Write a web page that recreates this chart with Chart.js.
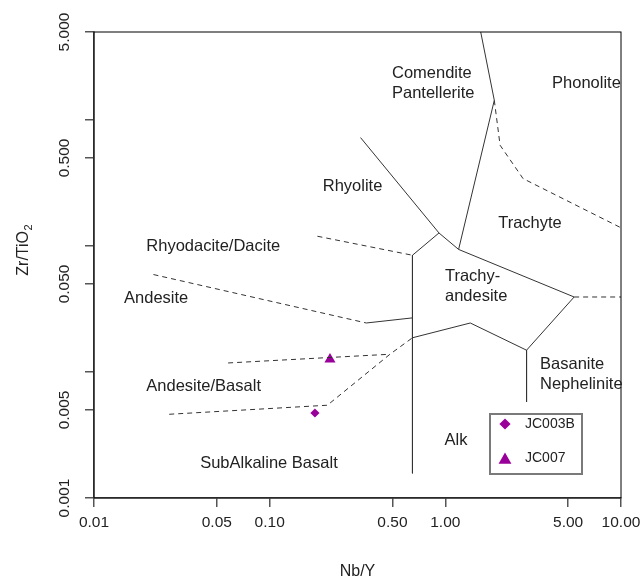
<!DOCTYPE html>
<html>
<head>
<meta charset="utf-8">
<script src="https://cdn.jsdelivr.net/npm/chart.js@4.4.0/dist/chart.umd.min.js"></script>
<style>
  html, body { margin: 0; padding: 0; background: #fff; }
  canvas { display: block; }
</style>
</head>
<body>
<canvas id="chart" width="643" height="581"></canvas>
<script>
// Zr/TiO2 vs Nb/Y classification diagram (Winchester & Floyd) with two samples

// axis ticks
const xTicks = [0.01, 0.05, 0.1, 0.5, 1, 5, 10];
const xTickLabels = ['0.01', '0.05', '0.10', '0.50', '1.00', '5.00', '10.00'];
const yTicks = [0.001, 0.005, 0.01, 0.05, 0.1, 0.5, 1, 5];
const yTickLabels = ['0.001', '0.005', '', '0.050', '', '0.500', '', '5.000'];

// field boundaries, [Nb/Y, Zr/TiO2] — solid
const comenditePhonolite = [[1.59, 5], [1.90, 1.435], [1.19, 0.094]];
const rhyoliteComendite = [[0.329, 0.726], [0.92, 0.127], [1.19, 0.094]];
const rhyoliteTrachyandesite = [[0.92, 0.127], [0.65, 0.0845]];
const subalkalineAlkaline = [[0.65, 0.0845], [0.65, 0.00157]];
const trachyteTrachyandesite = [[1.19, 0.094], [5.41, 0.0394]];
const andesiteTrachyandesite = [[0.355, 0.0245], [0.65, 0.0269]];
const trachyandesiteAlk = [[0.65, 0.0187], [1.387, 0.0245], [2.90, 0.0149], [5.41, 0.0394]];
const alkBasanite = [[2.90, 0.0149], [2.90, 0.00578]];

// field boundaries — dashed
const rhyodaciteRhyolite = [[0.187, 0.1196], [0.65, 0.0845]];
const andesiteRhyodacite = [[0.0218, 0.0594], [0.355, 0.0245]];
const andesiteBasaltUpper = [[0.058, 0.0118], [0.484, 0.01384]];
const andesiteBasaltLower = [[0.0268, 0.00462], [0.213, 0.00545], [0.484, 0.01384], [0.65, 0.0187]];
const trachytePhonolite = [[1.90, 1.435], [2.05, 0.631], [2.77, 0.343], [10, 0.1396]];
const trachyteBasanite = [[5.41, 0.0394], [10, 0.0394]];

// samples
const sampleNames = ['JC003B', 'JC007'];
const sampleNbY = [0.181, 0.2205];
const sampleZrTiO2 = [0.00473, 0.0126];

// field names and their anchor points (left edge, vertical middle)
const fieldNames = ['Comendite', 'Pantellerite', 'Phonolite', 'Rhyolite', 'Trachyte',
  'Rhyodacite/Dacite', 'Andesite', 'Trachy-', 'andesite', 'Basanite', 'Nephelinite',
  'Alk', 'SubAlkaline Basalt', 'Andesite/Basalt'];
const fieldNbY = [0.497, 0.497, 4.05, 0.2005, 2.0, 0.01985, 0.01483, 0.995, 0.995,
  3.46, 3.46, 0.99, 0.0402, 0.01985];
const fieldZrTiO2 = [2.35, 1.63, 1.96, 0.298, 0.1517, 0.0987, 0.0385, 0.0575, 0.0399,
  0.01153, 0.0080, 0.00288, 0.00189, 0.00764];

const FONT = 'Liberation Sans, Arial, sans-serif';
const INK = '#222';
const SAMPLE_COLOR = '#990099';
const sampleStyles = ['rectRot', 'triangle'];
const sampleRadius = [4.6, 6.4];

function boundary(points, dashed) {
  return {
    type: 'line',
    data: points.map(([x, y]) => ({ x, y })),
    borderColor: '#333',
    borderWidth: 1,
    borderDash: dashed ? [5, 4] : [],
    pointRadius: 0,
    pointHoverRadius: 0,
    fill: false,
    tension: 0,
    boundary: true
  };
}

const datasets = [
  boundary(comenditePhonolite, false),
  boundary(rhyoliteComendite, false),
  boundary(rhyoliteTrachyandesite, false),
  boundary(subalkalineAlkaline, false),
  boundary(trachyteTrachyandesite, false),
  boundary(andesiteTrachyandesite, false),
  boundary(trachyandesiteAlk, false),
  boundary(alkBasanite, false),
  boundary(rhyodaciteRhyolite, true),
  boundary(andesiteRhyodacite, true),
  boundary(andesiteBasaltUpper, true),
  boundary(andesiteBasaltLower, true),
  boundary(trachytePhonolite, true),
  boundary(trachyteBasanite, true)
];

sampleNames.forEach((name, i) => {
  datasets.push({
    type: 'scatter',
    label: name,
    data: [{ x: sampleNbY[i], y: sampleZrTiO2[i] }],
    pointStyle: sampleStyles[i],
    pointRadius: sampleRadius[i],
    pointBackgroundColor: SAMPLE_COLOR,
    pointBorderColor: SAMPLE_COLOR,
    pointBorderWidth: 0,
    sample: true
  });
});

// frame around the plotting region
const frame = {
  id: 'frame',
  afterDatasetsDraw(chart) {
    const { ctx, chartArea: a } = chart;
    ctx.save();
    ctx.strokeStyle = '#000';
    ctx.lineWidth = 1;
    ctx.strokeRect(a.left, a.top, a.right - a.left, a.bottom - a.top);
    ctx.restore();
  }
};

// field names placed in data coordinates
const fieldLabels = {
  id: 'fieldLabels',
  afterDatasetsDraw(chart) {
    const { ctx } = chart;
    const xs = chart.scales.x, ys = chart.scales.y;
    ctx.save();
    ctx.font = '16.5px ' + FONT;
    ctx.fillStyle = INK;
    ctx.textAlign = 'left';
    ctx.textBaseline = 'middle';
    fieldNames.forEach((t, i) => {
      ctx.fillText(t, xs.getPixelForValue(fieldNbY[i]), ys.getPixelForValue(fieldZrTiO2[i]));
    });
    ctx.restore();
  }
};

// vertical axis title with a true subscript
const yTitle = {
  id: 'yTitle',
  afterDraw(chart) {
    const { ctx, chartArea: a } = chart;
    const main = 'Zr/TiO', sub = '2';
    ctx.save();
    ctx.fillStyle = INK;
    ctx.textBaseline = 'alphabetic';
    ctx.textAlign = 'left';
    ctx.font = '16px ' + FONT;
    const wMain = ctx.measureText(main).width;
    ctx.font = '11px ' + FONT;
    const wSub = ctx.measureText(sub).width;
    const total = wMain + wSub + 0.5;
    const cy = (a.top + a.bottom) / 2 - 15;
    ctx.translate(28, cy);
    ctx.rotate(-Math.PI / 2);
    ctx.font = '16px ' + FONT;
    ctx.fillText(main, -total / 2, 0);
    ctx.font = '11px ' + FONT;
    ctx.fillText(sub, -total / 2 + wMain + 0.5, 4);
    ctx.restore();
  }
};

// boxed key for the sample symbols, lower right of the plot
const sampleKey = {
  id: 'sampleKey',
  afterDraw(chart) {
    const { ctx, chartArea: a } = chart;
    const left = a.left + 396, top = a.top + 382, w = 92, h = 60;
    ctx.save();
    ctx.fillStyle = '#fff';
    ctx.fillRect(left, top, w, h);
    ctx.strokeStyle = '#7a7a7a';
    ctx.lineWidth = 2;
    ctx.strokeRect(left, top, w, h);
    const rowY = [top + 10, top + 44];
    chart.data.datasets.filter(d => d.sample).forEach((d, i) => {
      ctx.fillStyle = d.pointBackgroundColor;
      ctx.strokeStyle = d.pointBorderColor;
      Chart.helpers.drawPoint(ctx, {
        pointStyle: d.pointStyle,
        radius: d.pointRadius + 1,
        rotation: 0,
        borderWidth: 0
      }, left + 15, rowY[i] + (d.pointStyle === 'triangle' ? 2 : 0));
      ctx.fillStyle = INK;
      ctx.font = '14px ' + FONT;
      ctx.textAlign = 'left';
      ctx.textBaseline = 'middle';
      ctx.fillText(d.label, left + 35, rowY[i]);
    });
    ctx.restore();
  }
};

new Chart(document.getElementById('chart'), {
  type: 'scatter',
  data: { datasets },
  options: {
    responsive: false,
    animation: false,
    events: [],
    layout: { padding: { top: 32, right: 22, bottom: 0, left: 0 } },
    plugins: {
      legend: { display: false },
      tooltip: { enabled: false }
    },
    scales: {
      x: {
        type: 'logarithmic',
        position: 'bottom',
        min: 0.01,
        max: 10,
        afterBuildTicks: s => { s.ticks = xTicks.map(v => ({ value: v })); },
        afterFit: s => { s.height = 83; },
        ticks: {
          autoSkip: false,
          minRotation: 0,
          maxRotation: 0,
          padding: 2,
          color: INK,
          font: { family: FONT, size: 15.5, lineHeight: 1.72 },
          callback: (v, i) => xTickLabels[i]
        },
        grid: { drawOnChartArea: false, drawTicks: true, tickLength: 9, color: '#555', lineWidth: 1.5 },
        border: { display: true, color: '#555', width: 1.5 },
        title: {
          display: true,
          text: 'Nb/Y',
          color: INK,
          font: { family: FONT, size: 16 },
          padding: { top: 0, bottom: 0 }
        }
      },
      y: {
        type: 'logarithmic',
        position: 'left',
        min: 0.001,
        max: 5,
        afterBuildTicks: s => { s.ticks = yTicks.map(v => ({ value: v })); },
        afterFit: s => { s.width = 94; },
        ticks: {
          autoSkip: false,
          minRotation: 90,
          maxRotation: 90,
          crossAlign: 'center',
          padding: 1,
          color: INK,
          font: { family: FONT, size: 15.5 },
          callback: (v, i) => yTickLabels[i]
        },
        grid: { drawOnChartArea: false, drawTicks: true, tickLength: 9, color: '#555', lineWidth: 1.5 },
        border: { display: true, color: '#555', width: 1.5 }
      }
    }
  },
  plugins: [frame, fieldLabels, yTitle, sampleKey]
});
</script>
</body>
</html>
